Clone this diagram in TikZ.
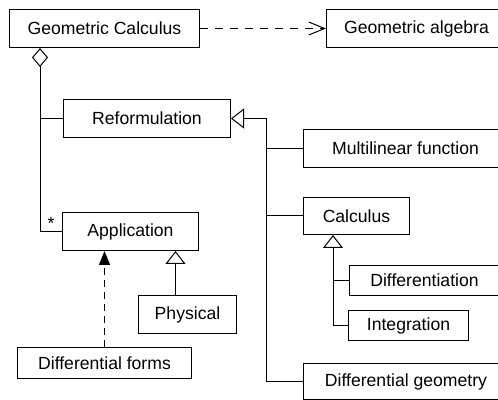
\documentclass[tikz,border=0pt]{standalone}
\usepackage{fontspec}
\setmainfont{Liberation Sans}
\usetikzlibrary{arrows.meta, calc}
\tikzset{
  umlbox/.style={rectangle, draw=black, line width=0.5pt, fill=white,
                 inner sep=0pt, anchor=north west, text centered,
                 font=\fontsize{8.8}{10}\selectfont},
  link/.style={draw=black, line width=0.5pt},
  inherit/.style={link, -{Triangle[open, length=6.5pt, width=10pt]}},
  depend/.style={link, dash pattern=on 4pt off 3.5pt,
                 -{Straight Barb[length=8pt, width=6.5pt]}},
  usedep/.style={link, dash pattern=on 3.5pt off 2.5pt,
                 -{Triangle[length=7pt, width=5.5pt]}},
  aggr/.style={link, {Diamond[open, length=9.5pt, width=8pt]}-},
}
\begin{document}
\begin{tikzpicture}[x=0.5pt, y=-0.5pt]
  \useasboundingbox (0,0) rectangle (498,400);
  \clip (0,0) rectangle (498,400);

  \node[umlbox, minimum width=95pt,   minimum height=19pt]   (gc)     at (9,9)     {Geometric Calculus};
  \node[umlbox, minimum width=90pt,   minimum height=19pt]   (ga)     at (326,9)   {Geometric algebra};
  \node[umlbox, minimum width=83.5pt, minimum height=19pt]   (ref)    at (63,99)   {Reformulation};
  \node[umlbox, minimum width=102pt,  minimum height=19pt]   (mlf)    at (303,129) {Multilinear function};
  \node[umlbox, minimum width=53pt,   minimum height=18.5pt] (calc)   at (303,197) {Calculus};
  \node[umlbox, minimum width=75pt,   minimum height=15pt]   (diffn)  at (349,265) {Differentiation};
  \node[umlbox, minimum width=60pt,   minimum height=15pt]   (integ)  at (348,310) {Integration};
  \node[umlbox, minimum width=102.5pt,minimum height=18pt]   (dgeo)   at (303,363) {Differential geometry};
  \node[umlbox, minimum width=68pt,   minimum height=19pt]   (app)    at (62,212)  {Application};
  \node[umlbox, minimum width=49pt,   minimum height=19pt]   (phys)   at (138,295) {Physical};
  \node[umlbox, minimum width=87pt,   minimum height=15.5pt] (dforms) at (17,347)  {Differential forms};

  % dependency and aggregation
  \draw[depend] (gc) -- (ga);
  \coordinate (agg) at ($(gc.south west)+(31,0)$);
  \draw[aggr] (agg) |- node[pos=0.75, above, inner sep=0.5pt,
      font=\fontsize{8.8}{10}\selectfont] {*} (app.west);
  \draw[link] (ref.west) -- (ref.west -| agg);

  % reformulation branches
  \coordinate (spine) at ($(ref.east)+(35,0)$);
  \draw[inherit] (spine) -- (ref.east);
  \draw[link] (spine) |- (dgeo.west);
  \draw[link] (mlf.west) -- (mlf.west -| spine);
  \draw[link] (calc.west) -- (calc.west -| spine);

  % calculus branches
  \coordinate (sub) at ($(calc.south west)+(30,0)$);
  \draw[inherit] (integ.west) -| (sub);
  \draw[link] (diffn.west) -- (diffn.west -| sub);

  % application
  \coordinate (physup) at ($(phys.north)+(-12,0)$);
  \draw[inherit] (physup) -- (physup |- app.south);
  \draw[usedep] (dforms.north) -- (dforms.north |- app.south);

\end{tikzpicture}
\end{document}
